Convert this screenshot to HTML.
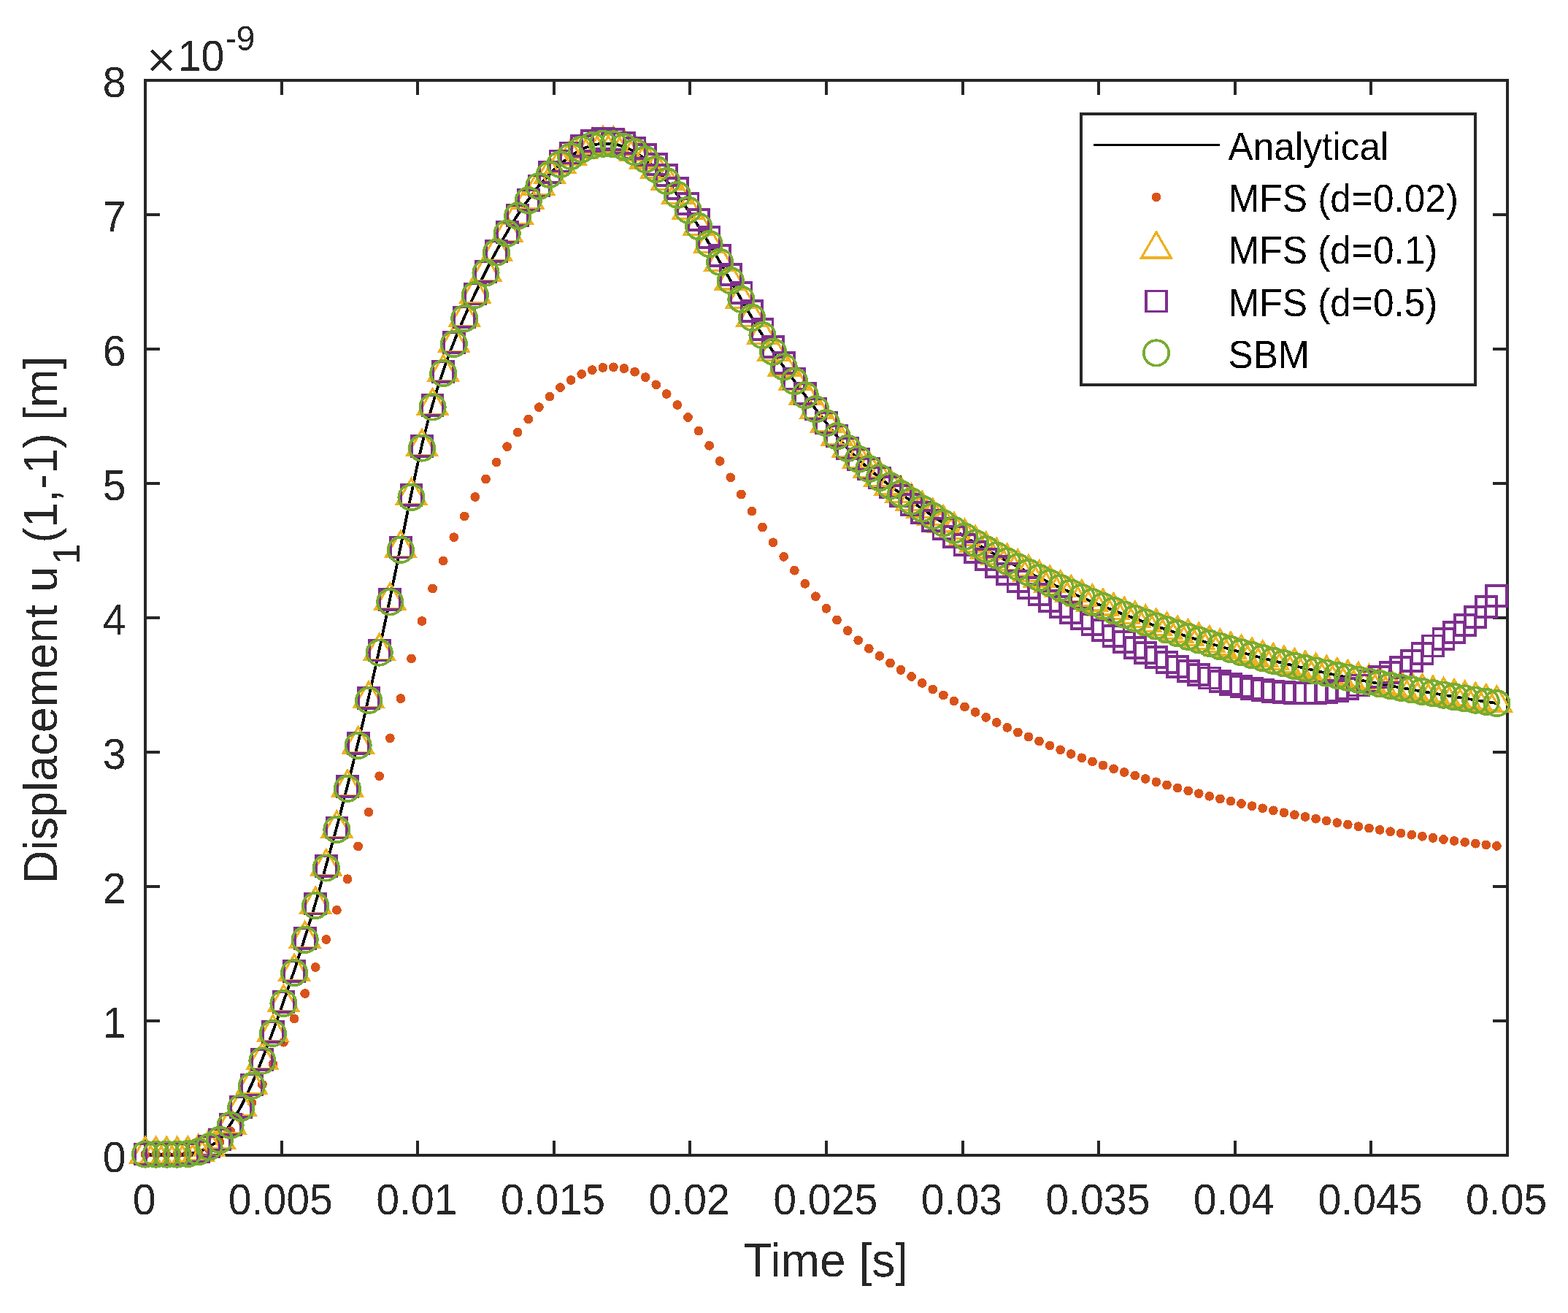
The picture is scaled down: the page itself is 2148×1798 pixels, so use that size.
<!DOCTYPE html>
<html><head><meta charset="utf-8"><title>Displacement plot</title>
<style>html,body{margin:0;padding:0;background:#fff;}body{width:2148px;height:1798px;overflow:hidden;}svg{display:block;}</style>
</head><body>
<svg width="2148" height="1798" viewBox="0 0 2148 1798" font-family="Liberation Sans, Arial, Helvetica, sans-serif">
<rect width="2148" height="1798" fill="#fff"/>
<defs>
<filter id="crisp" x="-5%" y="-5%" width="110%" height="110%"><feComponentTransfer><feFuncA type="discrete" tableValues="0 1"/></feComponentTransfer></filter>
<path id="tri" shape-rendering="crispEdges" d="M0,-23.3 L20.3,11.7 L-20.3,11.7 Z" fill="none" stroke="#EDB120" stroke-width="3.2" stroke-linejoin="miter"/>
<rect id="sqr" shape-rendering="crispEdges" x="-14" y="-14" width="28" height="28" fill="none" stroke="#7E2F8E" stroke-width="3.8"/>
<circle id="cir" shape-rendering="crispEdges" r="17.2" fill="none" stroke="#77AC30" stroke-width="3.7"/>
<circle id="dot" shape-rendering="crispEdges" r="6.4" fill="#D95319"/>
</defs>
<g stroke="#262626" stroke-width="4" fill="none" shape-rendering="crispEdges">
<path d="M199.0,110.0H2065.0V1582.0H199.0Z" stroke-linejoin="miter"/>
<path d="M385.6,1582.0v-20M385.6,110.0v20M572.2,1582.0v-20M572.2,110.0v20M758.8,1582.0v-20M758.8,110.0v20M945.4,1582.0v-20M945.4,110.0v20M1132,1582.0v-20M1132,110.0v20M1318.6,1582.0v-20M1318.6,110.0v20M1505.2,1582.0v-20M1505.2,110.0v20M1691.8,1582.0v-20M1691.8,110.0v20M1878.4,1582.0v-20M1878.4,110.0v20M199.0,1398h20M2065.0,1398h-20M199.0,1214h20M2065.0,1214h-20M199.0,1030h20M2065.0,1030h-20M199.0,846h20M2065.0,846h-20M199.0,662h20M2065.0,662h-20M199.0,478h20M2065.0,478h-20M199.0,294h20M2065.0,294h-20"/>
</g>
<g>
<text filter="url(#crisp)" transform="translate(197.7,1663) scale(1,1.04)" font-size="57.2" fill="#262626" text-anchor="middle">0</text>
<text filter="url(#crisp)" transform="translate(384.3,1663) scale(1,1.04)" font-size="57.2" fill="#262626" text-anchor="middle">0.005</text>
<text filter="url(#crisp)" transform="translate(570.9,1663) scale(1,1.04)" font-size="57.2" fill="#262626" text-anchor="middle">0.01</text>
<text filter="url(#crisp)" transform="translate(757.5,1663) scale(1,1.04)" font-size="57.2" fill="#262626" text-anchor="middle">0.015</text>
<text filter="url(#crisp)" transform="translate(944.1,1663) scale(1,1.04)" font-size="57.2" fill="#262626" text-anchor="middle">0.02</text>
<text filter="url(#crisp)" transform="translate(1130.7,1663) scale(1,1.04)" font-size="57.2" fill="#262626" text-anchor="middle">0.025</text>
<text filter="url(#crisp)" transform="translate(1317.3,1663) scale(1,1.04)" font-size="57.2" fill="#262626" text-anchor="middle">0.03</text>
<text filter="url(#crisp)" transform="translate(1503.9,1663) scale(1,1.04)" font-size="57.2" fill="#262626" text-anchor="middle">0.035</text>
<text filter="url(#crisp)" transform="translate(1690.5,1663) scale(1,1.04)" font-size="57.2" fill="#262626" text-anchor="middle">0.04</text>
<text filter="url(#crisp)" transform="translate(1877.1,1663) scale(1,1.04)" font-size="57.2" fill="#262626" text-anchor="middle">0.045</text>
<text filter="url(#crisp)" transform="translate(2063.7,1663) scale(1,1.04)" font-size="57.2" fill="#262626" text-anchor="middle">0.05</text>
<text filter="url(#crisp)" transform="translate(172.6,1604.6) scale(1,1.04)" font-size="57.2" fill="#262626" text-anchor="end">0</text>
<text filter="url(#crisp)" transform="translate(172.6,1420.6) scale(1,1.04)" font-size="57.2" fill="#262626" text-anchor="end">1</text>
<text filter="url(#crisp)" transform="translate(172.6,1236.6) scale(1,1.04)" font-size="57.2" fill="#262626" text-anchor="end">2</text>
<text filter="url(#crisp)" transform="translate(172.6,1052.6) scale(1,1.04)" font-size="57.2" fill="#262626" text-anchor="end">3</text>
<text filter="url(#crisp)" transform="translate(172.6,868.6) scale(1,1.04)" font-size="57.2" fill="#262626" text-anchor="end">4</text>
<text filter="url(#crisp)" transform="translate(172.6,684.6) scale(1,1.04)" font-size="57.2" fill="#262626" text-anchor="end">5</text>
<text filter="url(#crisp)" transform="translate(172.6,500.6) scale(1,1.04)" font-size="57.2" fill="#262626" text-anchor="end">6</text>
<text filter="url(#crisp)" transform="translate(172.6,316.6) scale(1,1.04)" font-size="57.2" fill="#262626" text-anchor="end">7</text>
<text filter="url(#crisp)" transform="translate(172.6,132.6) scale(1,1.04)" font-size="57.2" fill="#262626" text-anchor="end">8</text>
<text filter="url(#crisp)" transform="translate(198.4,100.2) scale(1,1.0)" font-family="Noto Sans CJK SC, Liberation Sans, sans-serif" font-size="45" fill="#262626" stroke="#262626" stroke-width="0.9">×</text>
<text filter="url(#crisp)" transform="translate(243.7,97) scale(1,1.04)" font-size="57.2" fill="#262626">10</text>
<text filter="url(#crisp)" transform="translate(308.4,69.3) scale(1,1.04)" font-size="45.8" fill="#262626">-9</text>
</g>
<text filter="url(#crisp)" transform="translate(1131.3,1748) scale(1.01,1.03)" font-size="63.5" fill="#262626" text-anchor="middle">Time [s]</text>
<g transform="translate(78,849) rotate(-90) scale(1,1.03)"><text filter="url(#crisp)" x="0" y="0" text-anchor="middle" font-size="63" fill="#262626">Displacement u<tspan font-size="50.8" dx="3" dy="30.5">1</tspan><tspan dx="1" dy="-30.5">(1,-1) [m]</tspan></text></g>
<path d="M199,1580.6 202.6,1580.6 206.3,1580.6 209.9,1580.6 213.6,1580.6 217.2,1580.6 220.9,1580.6 224.5,1580.6 228.2,1580.6 231.8,1580.6 235.4,1580.6 239.1,1580.6 242.7,1580.6 246.4,1580.6 250,1580.4 253.7,1580.2 257.3,1580 261,1579.6 264.6,1579 268.2,1578.2 271.9,1577.2 275.5,1576 279.2,1574.3 282.8,1572.3 286.5,1570.2 290.1,1568.1 293.8,1565.9 297.4,1563.3 301,1560.3 304.7,1556.2 308.3,1551 312,1545.2 315.6,1539.5 319.3,1533.8 322.9,1527.9 326.6,1521.7 330.2,1515.1 333.8,1508.1 337.5,1500.6 341.1,1492.8 344.8,1484.7 348.4,1476.4 352.1,1467.8 355.7,1459 359.4,1450 363,1440.8 366.6,1431.5 370.3,1422 373.9,1412.2 377.6,1402.2 381.2,1392 384.9,1381.5 388.5,1371.1 392.2,1360.7 395.8,1350.3 399.4,1339.7 403.1,1328.9 406.7,1317.9 410.4,1306.7 414,1295.3 417.7,1283.8 421.3,1272.2 425,1260.6 428.6,1248.7 432.2,1236.5 435.9,1224 439.5,1211.1 443.2,1198 446.8,1184.9 450.5,1171.8 454.1,1158.8 457.8,1145.6 461.4,1132.2 465.1,1118.5 468.7,1104.5 472.3,1090.3 476,1076 479.6,1061.5 483.3,1046.7 486.9,1031.8 490.6,1016.8 494.2,1001.5 497.9,986.1 501.5,970.4 505.1,954.5 508.8,938.5 512.4,922.2 516.1,905.6 519.7,888.9 523.4,871.8 527,854.5 530.7,837 534.3,819.4 537.9,801.7 541.6,783.8 545.2,765.9 548.9,748 552.5,729.9 556.2,711.7 559.8,693.7 563.5,676.1 567.1,658.8 570.7,641.6 574.4,625 578,609.3 581.7,594.5 585.3,580.3 589,566.8 592.6,553.9 596.3,541.6 599.9,530 603.5,518.8 607.2,508 610.8,497.6 614.5,487.5 618.1,477.8 621.8,468.4 625.4,459.3 629.1,450.6 632.7,442 636.3,433.7 640,425.5 643.6,417.5 647.3,409.6 650.9,401.8 654.6,394.1 658.2,386.4 661.9,378.9 665.5,371.6 669.1,364.4 672.8,357.4 676.4,350.5 680.1,343.7 683.7,337.1 687.4,330.5 691,324.1 694.7,317.9 698.3,311.7 701.9,305.7 705.6,299.9 709.2,294.2 712.9,288.8 716.5,283.5 720.2,278.4 723.8,273.3 727.5,268.4 731.1,263.5 734.7,258.7 738.4,254.2 742,250 745.7,246 749.3,242.2 753,238.5 756.6,234.8 760.3,231.3 763.9,227.9 767.5,224.7 771.2,221.7 774.8,219 778.5,216.4 782.1,213.8 785.8,211.3 789.4,208.8 793.1,206.5 796.7,204.6 800.3,202.9 804,201.4 807.6,200.1 811.3,199.1 814.9,198.3 818.6,197.5 822.2,196.9 825.9,196.7 829.5,196.7 833.1,196.8 836.8,197 840.4,197.3 844.1,197.8 847.7,198.7 851.4,199.8 855,201.1 858.7,202.4 862.3,204.1 865.9,206 869.6,208.1 873.2,210.3 876.9,212.8 880.5,215.5 884.2,218.3 887.8,221.4 891.5,224.7 895.1,228.2 898.8,231.8 902.4,235.6 906,239.6 909.7,243.8 913.3,248.1 917,252.5 920.6,257.1 924.3,261.9 927.9,266.8 931.6,271.8 935.2,277 938.8,282.2 942.5,287.6 946.1,293.1 949.8,298.7 953.4,304.3 957.1,310.1 960.7,315.9 964.4,321.9 968,327.9 971.6,334 975.3,340.1 978.9,346.3 982.6,352.5 986.2,358.8 989.9,365.1 993.5,371.4 997.2,377.8 1000.8,384.2 1004.4,390.6 1008.1,397 1011.7,403.4 1015.4,409.8 1019,416.1 1022.7,422.4 1026.3,428.7 1030,434.9 1033.6,441.1 1037.2,447.2 1040.9,453.2 1044.5,459.1 1048.2,464.8 1051.8,470.5 1055.5,476.1 1059.1,481.6 1062.8,487 1066.4,492.2 1070,497.3 1073.7,502.4 1077.3,507.4 1081,512.3 1084.6,517.1 1088.3,522 1091.9,526.8 1095.6,531.6 1099.2,536.4 1102.8,541.2 1106.5,546 1110.1,550.8 1113.8,555.6 1117.4,560.4 1121.1,565.2 1124.7,569.9 1128.4,574.6 1132,579.3 1135.6,583.9 1139.3,588.5 1142.9,593 1146.6,597.3 1150.2,601.6 1153.9,605.8 1157.5,610 1161.2,613.9 1164.8,617.8 1168.4,621.6 1172.1,625.2 1175.7,628.8 1179.4,632.2 1183,635.6 1186.7,638.8 1190.3,642 1194,645.2 1197.6,648.2 1201.2,651.2 1204.9,654.1 1208.5,657 1212.2,659.8 1215.8,662.6 1219.5,665.3 1223.1,668.1 1226.8,670.7 1230.4,673.4 1234,676.1 1237.7,678.7 1241.3,681.3 1245,683.9 1248.6,686.5 1252.3,689.1 1255.9,691.6 1259.6,694.2 1263.2,696.7 1266.8,699.2 1270.5,701.7 1274.1,704.2 1277.8,706.6 1281.4,709.1 1285.1,711.5 1288.7,713.9 1292.4,716.3 1296,718.7 1299.6,721 1303.3,723.4 1306.9,725.7 1310.6,728 1314.2,730.3 1317.9,732.6 1321.5,734.8 1325.2,737.1 1328.8,739.3 1332.4,741.5 1336.1,743.7 1339.7,745.8 1343.4,748 1347,750.1 1350.7,752.3 1354.3,754.4 1358,756.4 1361.6,758.5 1365.2,760.6 1368.9,762.6 1372.5,764.6 1376.2,766.6 1379.8,768.6 1383.5,770.6 1387.1,772.5 1390.8,774.5 1394.4,776.4 1398.1,778.3 1401.7,780.2 1405.3,782.1 1409,783.9 1412.6,785.8 1416.3,787.6 1419.9,789.4 1423.6,791.2 1427.2,793 1430.9,794.8 1434.5,796.5 1438.1,798.3 1441.8,800 1445.4,801.7 1449.1,803.4 1452.7,805.1 1456.4,806.8 1460,808.4 1463.7,810.1 1467.3,811.7 1470.9,813.3 1474.6,814.9 1478.2,816.5 1481.9,818.1 1485.5,819.6 1489.2,821.2 1492.8,822.7 1496.5,824.3 1500.1,825.8 1503.7,827.3 1507.4,828.8 1511,830.2 1514.7,831.7 1518.3,833.2 1522,834.6 1525.6,836 1529.3,837.5 1532.9,838.9 1536.5,840.3 1540.2,841.6 1543.8,843 1547.5,844.4 1551.1,845.7 1554.8,847.1 1558.4,848.4 1562.1,849.7 1565.7,851.1 1569.3,852.4 1573,853.6 1576.6,854.9 1580.3,856.2 1583.9,857.5 1587.6,858.7 1591.2,860 1594.9,861.2 1598.5,862.4 1602.1,863.7 1605.8,864.9 1609.4,866.1 1613.1,867.3 1616.7,868.4 1620.4,869.6 1624,870.8 1627.7,871.9 1631.3,873.1 1634.9,874.2 1638.6,875.4 1642.2,876.5 1645.9,877.6 1649.5,878.7 1653.2,879.8 1656.8,880.9 1660.5,882 1664.1,883.1 1667.7,884.1 1671.4,885.2 1675,886.2 1678.7,887.3 1682.3,888.3 1686,889.3 1689.6,890.4 1693.3,891.4 1696.9,892.4 1700.5,893.4 1704.2,894.4 1707.8,895.3 1711.5,896.3 1715.1,897.3 1718.8,898.3 1722.4,899.2 1726.1,900.2 1729.7,901.1 1733.3,902 1737,903 1740.6,903.9 1744.3,904.8 1747.9,905.7 1751.6,906.6 1755.2,907.5 1758.9,908.4 1762.5,909.3 1766.1,910.1 1769.8,911 1773.4,911.9 1777.1,912.7 1780.7,913.6 1784.4,914.4 1788,915.2 1791.7,916.1 1795.3,916.9 1798.9,917.7 1802.6,918.5 1806.2,919.3 1809.9,920.1 1813.5,920.9 1817.2,921.7 1820.8,922.5 1824.5,923.3 1828.1,924 1831.8,924.8 1835.4,925.6 1839,926.3 1842.7,927.1 1846.3,927.8 1850,928.6 1853.6,929.3 1857.3,930 1860.9,930.8 1864.6,931.5 1868.2,932.2 1871.8,932.9 1875.5,933.6 1879.1,934.3 1882.8,935 1886.4,935.7 1890.1,936.4 1893.7,937.1 1897.4,937.8 1901,938.4 1904.6,939.1 1908.3,939.8 1911.9,940.4 1915.6,941.1 1919.2,941.8 1922.9,942.4 1926.5,943.1 1930.2,943.7 1933.8,944.3 1937.4,945 1941.1,945.6 1944.7,946.2 1948.4,946.9 1952,947.5 1955.7,948.1 1959.3,948.7 1963,949.3 1966.6,949.9 1970.2,950.5 1973.9,951.1 1977.5,951.7 1981.2,952.3 1984.8,952.9 1988.5,953.5 1992.1,954.1 1995.8,954.7 1999.4,955.2 2003,955.8 2006.7,956.4 2010.3,957 2014,957.5 2017.6,958.1 2021.3,958.7 2024.9,959.2 2028.6,959.8 2032.2,960.3 2035.8,960.9 2039.5,961.4 2043.1,962 2046.8,962.5 2050.4,963.1" fill="none" stroke="#000" stroke-width="3.8" stroke-linejoin="round" shape-rendering="crispEdges"/>
<g><use href="#dot" x="199" y="1580.6"/><use href="#dot" x="213.6" y="1580.6"/><use href="#dot" x="228.2" y="1580.6"/><use href="#dot" x="242.7" y="1580.6"/><use href="#dot" x="257.3" y="1580.1"/><use href="#dot" x="271.9" y="1578.8"/><use href="#dot" x="286.5" y="1573.8"/><use href="#dot" x="301" y="1563.8"/><use href="#dot" x="315.6" y="1549"/><use href="#dot" x="330.2" y="1530.8"/><use href="#dot" x="344.8" y="1509.8"/><use href="#dot" x="359.4" y="1485"/><use href="#dot" x="373.9" y="1457.1"/><use href="#dot" x="388.5" y="1427.2"/><use href="#dot" x="403.1" y="1394.9"/><use href="#dot" x="417.7" y="1360.5"/><use href="#dot" x="432.2" y="1324.5"/><use href="#dot" x="446.8" y="1286.5"/><use href="#dot" x="461.4" y="1246.2"/><use href="#dot" x="476" y="1203.7"/><use href="#dot" x="490.6" y="1159"/><use href="#dot" x="505.1" y="1112.2"/><use href="#dot" x="519.7" y="1062.8"/><use href="#dot" x="534.3" y="1010.8"/><use href="#dot" x="548.9" y="956.6"/><use href="#dot" x="563.5" y="901.9"/><use href="#dot" x="578" y="850.5"/><use href="#dot" x="592.6" y="805.9"/><use href="#dot" x="607.2" y="768.1"/><use href="#dot" x="621.8" y="735.7"/><use href="#dot" x="636.3" y="707"/><use href="#dot" x="650.9" y="680.5"/><use href="#dot" x="665.5" y="656"/><use href="#dot" x="680.1" y="633"/><use href="#dot" x="694.7" y="611.6"/><use href="#dot" x="709.2" y="592"/><use href="#dot" x="723.8" y="574"/><use href="#dot" x="738.4" y="557.6"/><use href="#dot" x="753" y="543.1"/><use href="#dot" x="767.5" y="530.6"/><use href="#dot" x="782.1" y="520.5"/><use href="#dot" x="796.7" y="512.4"/><use href="#dot" x="811.3" y="506.6"/><use href="#dot" x="825.9" y="503.4"/><use href="#dot" x="840.4" y="502.8"/><use href="#dot" x="855" y="504.6"/><use href="#dot" x="869.6" y="509.2"/><use href="#dot" x="884.2" y="516.6"/><use href="#dot" x="898.8" y="526.8"/><use href="#dot" x="913.3" y="539.5"/><use href="#dot" x="927.9" y="554.5"/><use href="#dot" x="942.5" y="571.5"/><use href="#dot" x="957.1" y="590.1"/><use href="#dot" x="971.6" y="610.3"/><use href="#dot" x="986.2" y="631.5"/><use href="#dot" x="1000.8" y="653.8"/><use href="#dot" x="1015.4" y="677"/><use href="#dot" x="1030" y="700.1"/><use href="#dot" x="1044.5" y="722"/><use href="#dot" x="1059.1" y="742.8"/><use href="#dot" x="1073.7" y="762.4"/><use href="#dot" x="1088.3" y="781.2"/><use href="#dot" x="1102.8" y="799.3"/><use href="#dot" x="1117.4" y="816.7"/><use href="#dot" x="1132" y="833.3"/><use href="#dot" x="1146.6" y="849"/><use href="#dot" x="1161.2" y="863.6"/><use href="#dot" x="1175.7" y="876.8"/><use href="#dot" x="1190.3" y="888.2"/><use href="#dot" x="1204.9" y="898.3"/><use href="#dot" x="1219.5" y="908"/><use href="#dot" x="1234" y="917.4"/><use href="#dot" x="1248.6" y="926.5"/><use href="#dot" x="1263.2" y="935.4"/><use href="#dot" x="1277.8" y="943.9"/><use href="#dot" x="1292.4" y="952"/><use href="#dot" x="1306.9" y="960"/><use href="#dot" x="1321.5" y="967.9"/><use href="#dot" x="1336.1" y="975.3"/><use href="#dot" x="1350.7" y="982.4"/><use href="#dot" x="1365.2" y="989.4"/><use href="#dot" x="1379.8" y="996.3"/><use href="#dot" x="1394.4" y="1002.9"/><use href="#dot" x="1409" y="1009"/><use href="#dot" x="1423.6" y="1015"/><use href="#dot" x="1438.1" y="1021"/><use href="#dot" x="1452.7" y="1026.8"/><use href="#dot" x="1467.3" y="1032.5"/><use href="#dot" x="1481.9" y="1037.8"/><use href="#dot" x="1496.5" y="1042.9"/><use href="#dot" x="1511" y="1048"/><use href="#dot" x="1525.6" y="1052.8"/><use href="#dot" x="1540.2" y="1057.5"/><use href="#dot" x="1554.8" y="1062"/><use href="#dot" x="1569.3" y="1066.5"/><use href="#dot" x="1583.9" y="1070.8"/><use href="#dot" x="1598.5" y="1075"/><use href="#dot" x="1613.1" y="1079"/><use href="#dot" x="1627.7" y="1082.9"/><use href="#dot" x="1642.2" y="1086.7"/><use href="#dot" x="1656.8" y="1090.3"/><use href="#dot" x="1671.4" y="1093.9"/><use href="#dot" x="1686" y="1097.2"/><use href="#dot" x="1700.5" y="1100.5"/><use href="#dot" x="1715.1" y="1103.7"/><use href="#dot" x="1729.7" y="1106.8"/><use href="#dot" x="1744.3" y="1109.8"/><use href="#dot" x="1758.9" y="1112.8"/><use href="#dot" x="1773.4" y="1115.7"/><use href="#dot" x="1788" y="1118.5"/><use href="#dot" x="1802.6" y="1121.2"/><use href="#dot" x="1817.2" y="1123.9"/><use href="#dot" x="1831.8" y="1126.6"/><use href="#dot" x="1846.3" y="1129.2"/><use href="#dot" x="1860.9" y="1131.7"/><use href="#dot" x="1875.5" y="1134.1"/><use href="#dot" x="1890.1" y="1136.4"/><use href="#dot" x="1904.6" y="1138.7"/><use href="#dot" x="1919.2" y="1141"/><use href="#dot" x="1933.8" y="1143.2"/><use href="#dot" x="1948.4" y="1145.3"/><use href="#dot" x="1963" y="1147.4"/><use href="#dot" x="1977.5" y="1149.5"/><use href="#dot" x="1992.1" y="1151.5"/><use href="#dot" x="2006.7" y="1153.3"/><use href="#dot" x="2021.3" y="1155.2"/><use href="#dot" x="2035.8" y="1156.9"/><use href="#dot" x="2050.4" y="1158.5"/></g>
<g><use href="#tri" x="199" y="1580.6"/><use href="#tri" x="213.6" y="1580.6"/><use href="#tri" x="228.2" y="1580.6"/><use href="#tri" x="242.7" y="1580.6"/><use href="#tri" x="257.3" y="1580"/><use href="#tri" x="271.9" y="1577.3"/><use href="#tri" x="286.5" y="1570.4"/><use href="#tri" x="301" y="1560.7"/><use href="#tri" x="315.6" y="1540.3"/><use href="#tri" x="330.2" y="1516.2"/><use href="#tri" x="344.8" y="1486"/><use href="#tri" x="359.4" y="1451.4"/><use href="#tri" x="373.9" y="1413.8"/><use href="#tri" x="388.5" y="1372.8"/><use href="#tri" x="403.1" y="1330.7"/><use href="#tri" x="417.7" y="1285.6"/><use href="#tri" x="432.2" y="1238.5"/><use href="#tri" x="446.8" y="1186.9"/><use href="#tri" x="461.4" y="1134.4"/><use href="#tri" x="476" y="1078.3"/><use href="#tri" x="490.6" y="1019.2"/><use href="#tri" x="505.1" y="957.1"/><use href="#tri" x="519.7" y="891.6"/><use href="#tri" x="534.3" y="822.2"/><use href="#tri" x="548.9" y="750.8"/><use href="#tri" x="563.5" y="678.9"/><use href="#tri" x="578" y="611.8"/><use href="#tri" x="592.6" y="555.9"/><use href="#tri" x="607.2" y="509.7"/><use href="#tri" x="621.8" y="469.9"/><use href="#tri" x="636.3" y="435"/><use href="#tri" x="650.9" y="403.1"/><use href="#tri" x="665.5" y="372.7"/><use href="#tri" x="680.1" y="344.8"/><use href="#tri" x="694.7" y="318.9"/><use href="#tri" x="709.2" y="295"/><use href="#tri" x="723.8" y="273.9"/><use href="#tri" x="738.4" y="254.7"/><use href="#tri" x="753" y="238.8"/><use href="#tri" x="767.5" y="224.9"/><use href="#tri" x="782.1" y="213.9"/><use href="#tri" x="796.7" y="204.6"/><use href="#tri" x="811.3" y="199.1"/><use href="#tri" x="825.9" y="196.7"/><use href="#tri" x="840.4" y="197.3"/><use href="#tri" x="855" y="201.1"/><use href="#tri" x="869.6" y="208.1"/><use href="#tri" x="884.2" y="218.3"/><use href="#tri" x="898.8" y="231.8"/><use href="#tri" x="913.3" y="248.1"/><use href="#tri" x="927.9" y="266.8"/><use href="#tri" x="942.5" y="287.6"/><use href="#tri" x="957.1" y="310.1"/><use href="#tri" x="971.6" y="334"/><use href="#tri" x="986.2" y="358.8"/><use href="#tri" x="1000.8" y="384.2"/><use href="#tri" x="1015.4" y="409.8"/><use href="#tri" x="1030" y="434.9"/><use href="#tri" x="1044.5" y="459.1"/><use href="#tri" x="1059.1" y="481.6"/><use href="#tri" x="1073.7" y="502.4"/><use href="#tri" x="1088.3" y="522"/><use href="#tri" x="1102.8" y="541.2"/><use href="#tri" x="1117.4" y="560.4"/><use href="#tri" x="1132" y="579.3"/><use href="#tri" x="1146.6" y="597.3"/><use href="#tri" x="1161.2" y="613.9"/><use href="#tri" x="1175.7" y="628.8"/><use href="#tri" x="1190.3" y="642"/><use href="#tri" x="1204.9" y="654.1"/><use href="#tri" x="1219.5" y="665.3"/><use href="#tri" x="1234" y="676.1"/><use href="#tri" x="1248.6" y="686.5"/><use href="#tri" x="1263.2" y="696.7"/><use href="#tri" x="1277.8" y="706.6"/><use href="#tri" x="1292.4" y="716.3"/><use href="#tri" x="1306.9" y="725.7"/><use href="#tri" x="1321.5" y="734.8"/><use href="#tri" x="1336.1" y="743.7"/><use href="#tri" x="1350.7" y="752.3"/><use href="#tri" x="1365.2" y="760.6"/><use href="#tri" x="1379.8" y="768.6"/><use href="#tri" x="1394.4" y="776.4"/><use href="#tri" x="1409" y="783.9"/><use href="#tri" x="1423.6" y="791.2"/><use href="#tri" x="1438.1" y="798.3"/><use href="#tri" x="1452.7" y="805.1"/><use href="#tri" x="1467.3" y="811.7"/><use href="#tri" x="1481.9" y="818.1"/><use href="#tri" x="1496.5" y="824.3"/><use href="#tri" x="1511" y="830.2"/><use href="#tri" x="1525.6" y="836"/><use href="#tri" x="1540.2" y="841.6"/><use href="#tri" x="1554.8" y="847.1"/><use href="#tri" x="1569.3" y="852.4"/><use href="#tri" x="1583.9" y="857.5"/><use href="#tri" x="1598.5" y="862.4"/><use href="#tri" x="1613.1" y="867.3"/><use href="#tri" x="1627.7" y="871.9"/><use href="#tri" x="1642.2" y="876.5"/><use href="#tri" x="1656.8" y="880.9"/><use href="#tri" x="1671.4" y="885.2"/><use href="#tri" x="1686" y="889.3"/><use href="#tri" x="1700.5" y="893.4"/><use href="#tri" x="1715.1" y="897.3"/><use href="#tri" x="1729.7" y="901.1"/><use href="#tri" x="1744.3" y="904.8"/><use href="#tri" x="1758.9" y="908.4"/><use href="#tri" x="1773.4" y="911.9"/><use href="#tri" x="1788" y="915.2"/><use href="#tri" x="1802.6" y="918.5"/><use href="#tri" x="1817.2" y="921.7"/><use href="#tri" x="1831.8" y="924.8"/><use href="#tri" x="1846.3" y="927.8"/><use href="#tri" x="1860.9" y="930.8"/><use href="#tri" x="1875.5" y="933.6"/><use href="#tri" x="1890.1" y="936.4"/><use href="#tri" x="1904.6" y="939.1"/><use href="#tri" x="1919.2" y="941.8"/><use href="#tri" x="1933.8" y="944.3"/><use href="#tri" x="1948.4" y="946.9"/><use href="#tri" x="1963" y="949.3"/><use href="#tri" x="1977.5" y="951.7"/><use href="#tri" x="1992.1" y="954.1"/><use href="#tri" x="2006.7" y="956.4"/><use href="#tri" x="2021.3" y="958.7"/><use href="#tri" x="2035.8" y="960.9"/><use href="#tri" x="2050.4" y="963.1"/></g>
<g><use href="#sqr" x="199" y="1580.6"/><use href="#sqr" x="213.6" y="1580.6"/><use href="#sqr" x="228.2" y="1580.6"/><use href="#sqr" x="242.7" y="1580.6"/><use href="#sqr" x="257.3" y="1580"/><use href="#sqr" x="271.9" y="1577.3"/><use href="#sqr" x="286.5" y="1570.3"/><use href="#sqr" x="301" y="1560.5"/><use href="#sqr" x="315.6" y="1539.9"/><use href="#sqr" x="330.2" y="1515.7"/><use href="#sqr" x="344.8" y="1485.5"/><use href="#sqr" x="359.4" y="1450.8"/><use href="#sqr" x="373.9" y="1413.1"/><use href="#sqr" x="388.5" y="1372"/><use href="#sqr" x="403.1" y="1329.9"/><use href="#sqr" x="417.7" y="1284.8"/><use href="#sqr" x="432.2" y="1237.6"/><use href="#sqr" x="446.8" y="1186"/><use href="#sqr" x="461.4" y="1133.4"/><use href="#sqr" x="476" y="1077.2"/><use href="#sqr" x="490.6" y="1018.1"/><use href="#sqr" x="505.1" y="955.9"/><use href="#sqr" x="519.7" y="890.4"/><use href="#sqr" x="534.3" y="820.9"/><use href="#sqr" x="548.9" y="749.6"/><use href="#sqr" x="563.5" y="677.7"/><use href="#sqr" x="578" y="610.7"/><use href="#sqr" x="592.6" y="555"/><use href="#sqr" x="607.2" y="508.9"/><use href="#sqr" x="621.8" y="469.2"/><use href="#sqr" x="636.3" y="434.4"/><use href="#sqr" x="650.9" y="402.5"/><use href="#sqr" x="665.5" y="372.2"/><use href="#sqr" x="680.1" y="344.3"/><use href="#sqr" x="694.7" y="318.4"/><use href="#sqr" x="709.2" y="294.7"/><use href="#sqr" x="723.8" y="273.7"/><use href="#sqr" x="738.4" y="254.5"/><use href="#sqr" x="753" y="236"/><use href="#sqr" x="767.5" y="220.5"/><use href="#sqr" x="782.1" y="209.5"/><use href="#sqr" x="796.7" y="199.6"/><use href="#sqr" x="811.3" y="193.1"/><use href="#sqr" x="825.9" y="190.2"/><use href="#sqr" x="840.4" y="191.3"/><use href="#sqr" x="855" y="195.6"/><use href="#sqr" x="869.6" y="202.6"/><use href="#sqr" x="884.2" y="212.3"/><use href="#sqr" x="898.8" y="224.8"/><use href="#sqr" x="913.3" y="240.1"/><use href="#sqr" x="927.9" y="258.3"/><use href="#sqr" x="942.5" y="279.1"/><use href="#sqr" x="957.1" y="301.1"/><use href="#sqr" x="971.6" y="325"/><use href="#sqr" x="986.2" y="350.3"/><use href="#sqr" x="1000.8" y="375.7"/><use href="#sqr" x="1015.4" y="400.8"/><use href="#sqr" x="1030" y="425.9"/><use href="#sqr" x="1044.5" y="451.1"/><use href="#sqr" x="1059.1" y="474.6"/><use href="#sqr" x="1073.7" y="496.9"/><use href="#sqr" x="1088.3" y="518.5"/><use href="#sqr" x="1102.8" y="539.2"/><use href="#sqr" x="1117.4" y="559.9"/><use href="#sqr" x="1132" y="579.3"/><use href="#sqr" x="1146.6" y="597.3"/><use href="#sqr" x="1161.2" y="613.9"/><use href="#sqr" x="1175.7" y="628.8"/><use href="#sqr" x="1190.3" y="642"/><use href="#sqr" x="1204.9" y="654.5"/><use href="#sqr" x="1219.5" y="666.9"/><use href="#sqr" x="1234" y="679"/><use href="#sqr" x="1248.6" y="690.8"/><use href="#sqr" x="1263.2" y="702"/><use href="#sqr" x="1277.8" y="713"/><use href="#sqr" x="1292.4" y="724"/><use href="#sqr" x="1306.9" y="735"/><use href="#sqr" x="1321.5" y="745.8"/><use href="#sqr" x="1336.1" y="756"/><use href="#sqr" x="1350.7" y="766"/><use href="#sqr" x="1365.2" y="776"/><use href="#sqr" x="1379.8" y="786"/><use href="#sqr" x="1394.4" y="795.8"/><use href="#sqr" x="1409" y="805"/><use href="#sqr" x="1423.6" y="814"/><use href="#sqr" x="1438.1" y="822.8"/><use href="#sqr" x="1452.7" y="831"/><use href="#sqr" x="1467.3" y="839"/><use href="#sqr" x="1481.9" y="847"/><use href="#sqr" x="1496.5" y="855"/><use href="#sqr" x="1511" y="863"/><use href="#sqr" x="1525.6" y="871"/><use href="#sqr" x="1540.2" y="879"/><use href="#sqr" x="1554.8" y="886.8"/><use href="#sqr" x="1569.3" y="893.8"/><use href="#sqr" x="1583.9" y="900.2"/><use href="#sqr" x="1598.5" y="906.8"/><use href="#sqr" x="1613.1" y="913"/><use href="#sqr" x="1627.7" y="918.8"/><use href="#sqr" x="1642.2" y="923.9"/><use href="#sqr" x="1656.8" y="928.5"/><use href="#sqr" x="1671.4" y="932.9"/><use href="#sqr" x="1686" y="936.8"/><use href="#sqr" x="1700.5" y="940"/><use href="#sqr" x="1715.1" y="942.9"/><use href="#sqr" x="1729.7" y="945.2"/><use href="#sqr" x="1744.3" y="947"/><use href="#sqr" x="1758.9" y="948.2"/><use href="#sqr" x="1773.4" y="949.1"/><use href="#sqr" x="1788" y="949.5"/><use href="#sqr" x="1802.6" y="949.2"/><use href="#sqr" x="1817.2" y="948.1"/><use href="#sqr" x="1831.8" y="946.3"/><use href="#sqr" x="1846.3" y="943"/><use href="#sqr" x="1860.9" y="938.6"/><use href="#sqr" x="1875.5" y="933.2"/><use href="#sqr" x="1890.1" y="927.3"/><use href="#sqr" x="1904.6" y="921.2"/><use href="#sqr" x="1919.2" y="914.2"/><use href="#sqr" x="1933.8" y="904.9"/><use href="#sqr" x="1948.4" y="895"/><use href="#sqr" x="1963" y="884.5"/><use href="#sqr" x="1977.5" y="874.9"/><use href="#sqr" x="1992.1" y="865.9"/><use href="#sqr" x="2006.7" y="856"/><use href="#sqr" x="2021.3" y="844.8"/><use href="#sqr" x="2035.8" y="831.1"/><use href="#sqr" x="2050.4" y="815.7"/></g>
<g><use href="#cir" x="199" y="1580.6"/><use href="#cir" x="213.6" y="1580.6"/><use href="#cir" x="228.2" y="1580.6"/><use href="#cir" x="242.7" y="1580.6"/><use href="#cir" x="257.3" y="1580"/><use href="#cir" x="271.9" y="1577.3"/><use href="#cir" x="286.5" y="1570.5"/><use href="#cir" x="301" y="1561"/><use href="#cir" x="315.6" y="1541"/><use href="#cir" x="330.2" y="1517"/><use href="#cir" x="344.8" y="1487"/><use href="#cir" x="359.4" y="1452.5"/><use href="#cir" x="373.9" y="1415"/><use href="#cir" x="388.5" y="1374"/><use href="#cir" x="403.1" y="1332"/><use href="#cir" x="417.7" y="1287"/><use href="#cir" x="432.2" y="1240"/><use href="#cir" x="446.8" y="1188.5"/><use href="#cir" x="461.4" y="1136"/><use href="#cir" x="476" y="1080"/><use href="#cir" x="490.6" y="1021"/><use href="#cir" x="505.1" y="959"/><use href="#cir" x="519.7" y="893.6"/><use href="#cir" x="534.3" y="824.3"/><use href="#cir" x="548.9" y="753"/><use href="#cir" x="563.5" y="681"/><use href="#cir" x="578" y="613.6"/><use href="#cir" x="592.6" y="557.4"/><use href="#cir" x="607.2" y="511"/><use href="#cir" x="621.8" y="471"/><use href="#cir" x="636.3" y="436"/><use href="#cir" x="650.9" y="404"/><use href="#cir" x="665.5" y="373.6"/><use href="#cir" x="680.1" y="345.6"/><use href="#cir" x="694.7" y="319.6"/><use href="#cir" x="709.2" y="295.6"/><use href="#cir" x="723.8" y="274.4"/><use href="#cir" x="738.4" y="255"/><use href="#cir" x="753" y="239"/><use href="#cir" x="767.5" y="225"/><use href="#cir" x="782.1" y="214"/><use href="#cir" x="796.7" y="204.6"/><use href="#cir" x="811.3" y="199.1"/><use href="#cir" x="825.9" y="196.7"/><use href="#cir" x="840.4" y="197.3"/><use href="#cir" x="855" y="201.1"/><use href="#cir" x="869.6" y="208.1"/><use href="#cir" x="884.2" y="218.3"/><use href="#cir" x="898.8" y="231.8"/><use href="#cir" x="913.3" y="248.1"/><use href="#cir" x="927.9" y="266.8"/><use href="#cir" x="942.5" y="287.6"/><use href="#cir" x="957.1" y="310.1"/><use href="#cir" x="971.6" y="334"/><use href="#cir" x="986.2" y="358.8"/><use href="#cir" x="1000.8" y="384.2"/><use href="#cir" x="1015.4" y="409.8"/><use href="#cir" x="1030" y="434.9"/><use href="#cir" x="1044.5" y="459.1"/><use href="#cir" x="1059.1" y="481.6"/><use href="#cir" x="1073.7" y="502.4"/><use href="#cir" x="1088.3" y="522"/><use href="#cir" x="1102.8" y="541.2"/><use href="#cir" x="1117.4" y="560.4"/><use href="#cir" x="1132" y="579.3"/><use href="#cir" x="1146.6" y="597.3"/><use href="#cir" x="1161.2" y="613.9"/><use href="#cir" x="1175.7" y="628.8"/><use href="#cir" x="1190.3" y="642"/><use href="#cir" x="1204.9" y="654.1"/><use href="#cir" x="1219.5" y="665.3"/><use href="#cir" x="1234" y="676.1"/><use href="#cir" x="1248.6" y="686.5"/><use href="#cir" x="1263.2" y="696.7"/><use href="#cir" x="1277.8" y="706.6"/><use href="#cir" x="1292.4" y="716.3"/><use href="#cir" x="1306.9" y="725.7"/><use href="#cir" x="1321.5" y="734.8"/><use href="#cir" x="1336.1" y="743.7"/><use href="#cir" x="1350.7" y="752.3"/><use href="#cir" x="1365.2" y="760.6"/><use href="#cir" x="1379.8" y="768.6"/><use href="#cir" x="1394.4" y="776.4"/><use href="#cir" x="1409" y="783.9"/><use href="#cir" x="1423.6" y="791.2"/><use href="#cir" x="1438.1" y="798.3"/><use href="#cir" x="1452.7" y="805.1"/><use href="#cir" x="1467.3" y="811.7"/><use href="#cir" x="1481.9" y="818.1"/><use href="#cir" x="1496.5" y="824.3"/><use href="#cir" x="1511" y="830.2"/><use href="#cir" x="1525.6" y="836"/><use href="#cir" x="1540.2" y="841.6"/><use href="#cir" x="1554.8" y="847.1"/><use href="#cir" x="1569.3" y="852.4"/><use href="#cir" x="1583.9" y="857.5"/><use href="#cir" x="1598.5" y="862.4"/><use href="#cir" x="1613.1" y="867.3"/><use href="#cir" x="1627.7" y="871.9"/><use href="#cir" x="1642.2" y="876.5"/><use href="#cir" x="1656.8" y="880.9"/><use href="#cir" x="1671.4" y="885.2"/><use href="#cir" x="1686" y="889.3"/><use href="#cir" x="1700.5" y="893.4"/><use href="#cir" x="1715.1" y="897.3"/><use href="#cir" x="1729.7" y="901.1"/><use href="#cir" x="1744.3" y="904.8"/><use href="#cir" x="1758.9" y="908.4"/><use href="#cir" x="1773.4" y="911.9"/><use href="#cir" x="1788" y="915.2"/><use href="#cir" x="1802.6" y="918.5"/><use href="#cir" x="1817.2" y="921.7"/><use href="#cir" x="1831.8" y="924.8"/><use href="#cir" x="1846.3" y="927.8"/><use href="#cir" x="1860.9" y="930.8"/><use href="#cir" x="1875.5" y="933.6"/><use href="#cir" x="1890.1" y="936.4"/><use href="#cir" x="1904.6" y="939.1"/><use href="#cir" x="1919.2" y="941.8"/><use href="#cir" x="1933.8" y="944.3"/><use href="#cir" x="1948.4" y="946.9"/><use href="#cir" x="1963" y="949.3"/><use href="#cir" x="1977.5" y="951.7"/><use href="#cir" x="1992.1" y="954.1"/><use href="#cir" x="2006.7" y="956.4"/><use href="#cir" x="2021.3" y="958.7"/><use href="#cir" x="2035.8" y="960.9"/><use href="#cir" x="2050.4" y="963.1"/></g>
<rect x="1481" y="156" width="540" height="371" fill="#fff" stroke="#262626" stroke-width="4" shape-rendering="crispEdges"/>
<path d="M1498,198.6H1671.3" stroke="#000" stroke-width="3" shape-rendering="crispEdges"/>
<use href="#dot" x="1584" y="269.9"/>
<use href="#tri" x="1584" y="341.2"/>
<use href="#sqr" x="1584" y="412.5"/>
<use href="#cir" x="1584" y="483.4"/>
<text filter="url(#crisp)" transform="translate(1682.5,218.7) scale(1,1.04)" font-size="51.4" fill="#000">Analytical</text>
<text filter="url(#crisp)" transform="translate(1682.5,290) scale(1,1.04)" font-size="51.4" fill="#000">MFS (d=0.02)</text>
<text filter="url(#crisp)" transform="translate(1682.5,361.3) scale(1,1.04)" font-size="51.4" fill="#000">MFS (d=0.1)</text>
<text filter="url(#crisp)" transform="translate(1682.5,432.6) scale(1,1.04)" font-size="51.4" fill="#000">MFS (d=0.5)</text>
<text filter="url(#crisp)" transform="translate(1682.5,503.5) scale(1,1.04)" font-size="51.4" fill="#000">SBM</text>
</svg>
</body></html>
